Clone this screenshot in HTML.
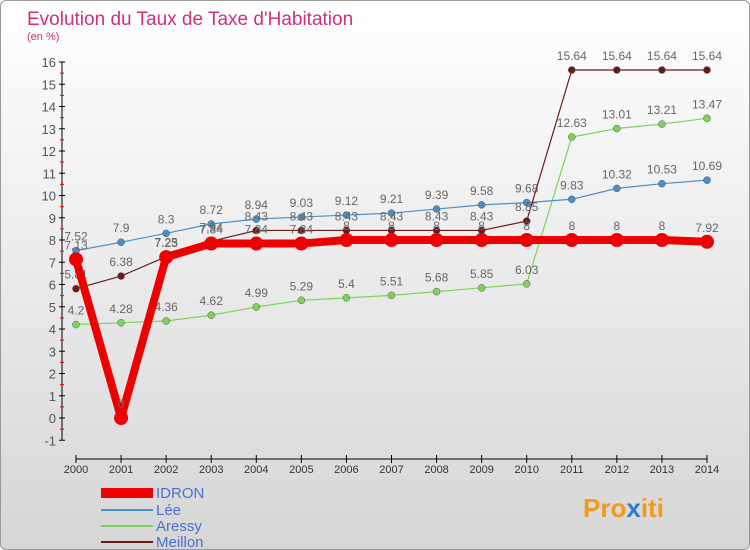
<!DOCTYPE html>
<html><head><meta charset="utf-8"><style>
body{margin:0}
#c{width:748px;height:548px;border:1px solid #999;border-radius:6px;background:linear-gradient(#fff,#d6d6d6);position:relative;overflow:hidden;font-family:"Liberation Sans",sans-serif}
</style></head><body>
<div id="c">
<svg id="s" width="748" height="548" xmlns="http://www.w3.org/2000/svg">
<text x="26" y="24" font-size="19" fill="#d0307a">Evolution du Taux de Taxe d'Habitation</text>
<text x="26" y="39" font-size="11" fill="#d0307a">(en %)</text>
<g id="g"></g>
<g>
<rect x="100" y="487" width="52" height="10" fill="#e00"/>
<text x="155" y="497" font-size="15" fill="#4a6fd0">IDRON</text>
<line x1="100" y1="509" x2="152" y2="509" stroke="#4a90c8" stroke-width="2"/>
<text x="155" y="514" font-size="15" fill="#4a6fd0">Lée</text>
<line x1="100" y1="525" x2="152" y2="525" stroke="#7dd35a" stroke-width="2"/>
<text x="155" y="530" font-size="15" fill="#4a6fd0">Aressy</text>
<line x1="100" y1="541" x2="152" y2="541" stroke="#6b1a1a" stroke-width="2"/>
<text x="155" y="546" font-size="15" fill="#4a6fd0">Meillon</text>
</g>
<text x="582" y="516" font-size="26" font-weight="bold" fill="#f39a1e">Pro<tspan fill="#2a7fd0">x</tspan>iti</text>
</svg>
</div>
<script>
const years=[2000,2001,2002,2003,2004,2005,2006,2007,2008,2009,2010,2011,2012,2013,2014];
const idron=[7.13,0,7.23,7.84,7.84,7.84,8,8,8,8,8,8,8,8,7.92];
const lee=[7.52,7.9,8.3,8.72,8.94,9.03,9.12,9.21,9.39,9.58,9.68,9.83,10.32,10.53,10.69];
const aressy=[4.2,4.28,4.36,4.62,4.99,5.29,5.4,5.51,5.68,5.85,6.03,12.63,13.01,13.21,13.47];
const meillon=[5.81,6.38,7.25,7.94,8.43,8.43,8.43,8.43,8.43,8.43,8.85,15.64,15.64,15.64,15.64];
const yTicks=[-1,0,1,2,3,4,5,6,7,8,9,10,11,12,13,14,15,16];
const NS="http://www.w3.org/2000/svg",g=document.getElementById('g');
const X=i=>75+i*(706-75)/(years.length-1);
const Y=v=>417-v*22.25;
function el(t,a){const e=document.createElementNS(NS,t);for(const k in a)e.setAttribute(k,a[k]);g.appendChild(e);return e;}
let e=el('line',{x1:61,y1:Y(16),x2:61,y2:Y(-1),stroke:'#000'});


e=el('line',{x1:X(0),y1:458,x2:X(14),y2:458,stroke:'#000'});


yTicks.forEach(v=>{
 el('line',{x1:58,y1:Y(v),x2:64,y2:Y(v),stroke:'#000'});
 if(v<16){el('line',{x1:59,y1:Y(v+0.5),x2:63,y2:Y(v+0.5),stroke:'#e00'});}
 e=el('text',{x:55,y:Y(v)+5,'font-size':13,fill:'#555','text-anchor':'end'});e.textContent=v;
 
 
});
years.forEach((y,i)=>{
 el('line',{x1:X(i),y1:454,x2:X(i),y2:462,stroke:'#000'});
 e=el('text',{x:X(i),y:472,'font-size':11,fill:'#333','text-anchor':'middle'});e.textContent=y;
 
 
});
function series(d,col,w,r,name){
 e=el('polyline',{points:d.map((v,i)=>X(i)+','+Y(v)).join(' '),fill:'none',stroke:col,'stroke-width':w,'stroke-linejoin':'round'});
 
 
 d.forEach((v,i)=>{
  e=el('circle',{cx:X(i),cy:Y(v),r:r,fill:col,stroke:'#555','stroke-width':r>5?0:0.5});
  
  
  e=el('text',{x:X(i),y:Y(v)-10,'font-size':12,fill:'#666','text-anchor':'middle'});e.textContent=v;
  
  
 });
}
series(aressy,'#7dd35a',1.2,3.5,'aressy');
series(lee,'#4a90c8',1.2,3.5,'lee');
series(meillon,'#6b1a1a',1.2,3.5,'meillon');
series(idron,'#e00',8,7,'idron');
</script>
</body></html>
